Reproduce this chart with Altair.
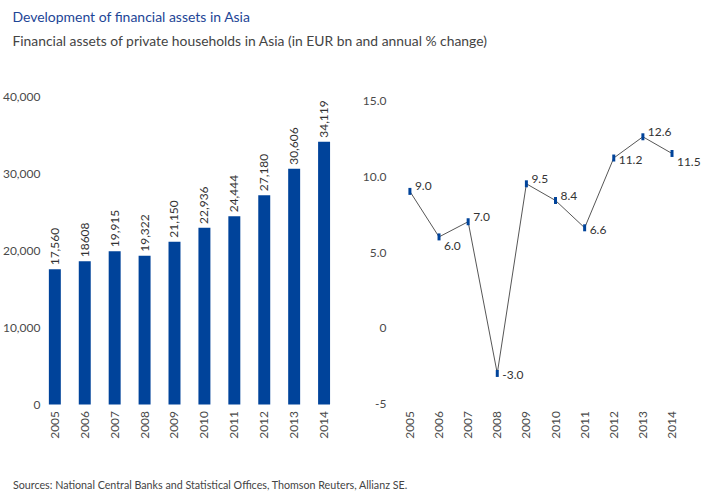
import altair as alt
import pandas as pd

years = ["2005", "2006", "2007", "2008", "2009", "2010", "2011", "2012", "2013", "2014"]
assets = [17560, 18608, 19915, 19322, 21150, 22936, 24444, 27180, 30606, 34119]
asset_labels = ["17,560", "18608", "19,915", "19,322", "21,150", "22,936", "24,444", "27,180", "30,606", "34,119"]
pct_change = [9.0, 6.0, 7.0, -3.0, 9.5, 8.4, 6.6, 11.2, 12.6, 11.5]

title_text = "Development of financial assets in Asia"
subtitle_text = "Financial assets of private households in Asia (in EUR bn and annual % change)"
source_text = "Sources: National Central Banks and Statistical Offices, Thomson Reuters, Allianz SE."

FONT = "Lato"
BLUE = "#00439a"
LABEL = "#4a4a4a"

df_a = pd.DataFrame({"year": years, "assets": assets, "label": asset_labels})
df_p = pd.DataFrame({"year": years, "pct": pct_change, "label": [f"{v:.1f}" for v in pct_change]})

xaxis = alt.Axis(title=None, labelAngle=270, domain=False, ticks=False, labelPadding=6,
                 labelFont=FONT, labelFontSize=12, labelColor=LABEL)

# left chart
base_l = alt.Chart(df_a).encode(
    x=alt.X("year:O", scale=alt.Scale(paddingInner=0.6, paddingOuter=0.2333), axis=xaxis)
)
yl = alt.Y("assets:Q", scale=alt.Scale(domain=[0, 40000], nice=False),
           axis=alt.Axis(title=None, values=[0, 10000, 20000, 30000, 40000], format=",d",
                         grid=False, domain=False, ticks=False, labelPadding=2,
                         labelFont=FONT, labelFontSize=12, labelColor=LABEL))
bars = base_l.mark_bar(color=BLUE).encode(y=yl)
bar_text = base_l.mark_text(angle=270, align="left", baseline="middle", dx=4,
                            font=FONT, fontSize=12, color="#333").encode(y="assets:Q", text="label:N")
source = alt.Chart(pd.DataFrame({"t": [source_text]})).mark_text(
    align="left", baseline="middle", font=FONT, fontSize=10.75, color="#444"
).encode(text="t:N", x=alt.value(-29), y=alt.value(391))
left = alt.layer(bars, bar_text, source).properties(width=296, height=309)

# right chart
base_r = alt.Chart(df_p).encode(
    x=alt.X("year:O", scale=alt.Scale(paddingInner=0.6, paddingOuter=0.316), axis=xaxis),
    y=alt.Y("pct:Q", scale=alt.Scale(domain=[-5.05, 15.26], nice=False, zero=False),
            axis=alt.Axis(title=None, values=[-5, 0, 5, 10, 15],
                          labelExpr="datum.value > 0 ? format(datum.value, '.1f') : '' + datum.value",
                          grid=False, domain=False, ticks=False, labelPadding=9,
                          labelFont=FONT, labelFontSize=12, labelColor=LABEL)),
)
line = base_r.mark_line(color="#555555", strokeWidth=1)
pts = base_r.mark_tick(orient="vertical", color=BLUE, thickness=3, size=7, opacity=1)

above = ["2005", "2007", "2009", "2010", "2013"]
middle = ["2008", "2011", "2012"]
below = ["2006", "2014"]

def lab(yrs, dy):
    return base_r.transform_filter(alt.FieldOneOfPredicate(field="year", oneOf=yrs)).mark_text(
        align="left", baseline="middle", dx=5, dy=dy, font=FONT, fontSize=12, color="#333"
    ).encode(text="label:N")

right = alt.layer(line, pts, lab(above, -5), lab(middle, 2), lab(below, 9)).properties(width=293, height=309)

chart = alt.hconcat(left, right, spacing=58, bounds="flush").properties(
    padding={"left": 2, "top": 10, "right": 0, "bottom": 0},
    title=alt.TitleParams(
        text=title_text, subtitle=subtitle_text, anchor="start", frame="bounds", dx=10,
        font=FONT, fontSize=14, fontWeight="normal", color="#1d4596",
        subtitleFont=FONT, subtitleFontSize=13.9, subtitleColor="#444", subtitlePadding=10,
        offset=42,
    )
).configure_view(stroke=None)

chart.save("out.html", embed_options={"renderer": "svg", "actions": False})
